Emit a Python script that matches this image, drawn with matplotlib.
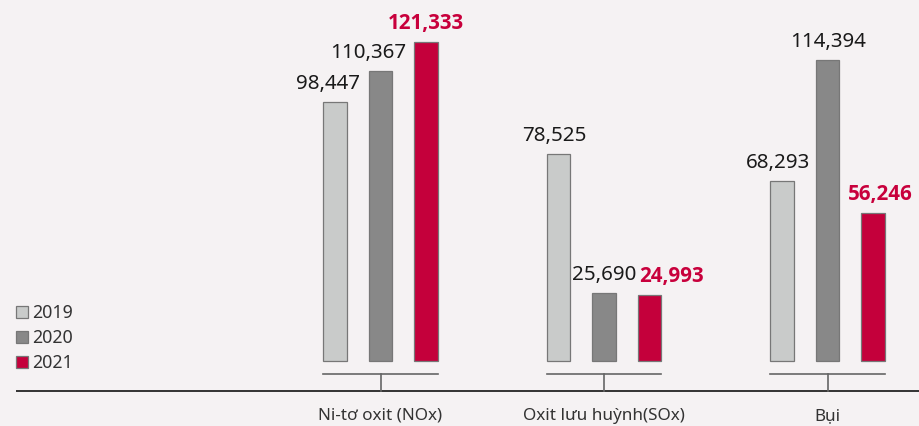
import matplotlib
matplotlib.use("Agg")
import matplotlib.pyplot as plt
from matplotlib.patches import Rectangle
import matplotlib.transforms as mtransforms

plt.rcParams['font.family'] = ['Noto Sans', 'DejaVu Sans']

categories = ["Ni-tơ oxit (NOx)", "Oxit lưu huỳnh(SOx)", "Bụi"]
years = ["2019", "2020", "2021"]
v2019 = [98447, 78525, 68293]
v2020 = [110367, 25690, 114394]
v2021 = [121333, 24993, 56246]
series = [v2019, v2020, v2021]

colors = ["#c9cbca", "#888888", "#c4003b"]
label_colors = ["#1a1a1a", "#1a1a1a", "#c8003c"]
label_weights = ["normal", "normal", "bold"]
label_families = [['Noto Sans', 'DejaVu Sans'], ['Noto Sans', 'DejaVu Sans'],
                  ['Open Sans', 'Roboto', 'DejaVu Sans']]
# horizontal nudges of value labels, in pixels (per year, per category)
label_dx = [[-7, -4, -4], [-12, 0, 1], [0, 22, 7]]

W, H = 919, 427
DPI = 100
bg = "#f5f2f3"
fig = plt.figure(figsize=(W / DPI, H / DPI), dpi=DPI, facecolor=bg)
ax = fig.add_axes([0, 0, 1, 1])
ax.set_facecolor(bg)

spacing = 223.5
x0 = 380.5
ax.set_xlim(-x0 / spacing, (W - x0) / spacing)
upp = 380.2  # units per pixel
base_px = 362
ax.set_ylim(-(H - base_px) * upp, base_px * upp)
ax.axis("off")

offs = [-0.2036, 0.0, 0.2036]
width = 0.103
px2pt = 72 / DPI
for i, vals in enumerate(series):
    xs = [k + offs[i] for k in range(len(categories))]
    ax.bar(xs, vals, width=width, color=colors[i], edgecolor="#777777",
           linewidth=0.9, zorder=3)
    for k, (x, v) in enumerate(zip(xs, vals)):
        ax.annotate(f"{v:,}", (x, v), xytext=(label_dx[i][k] * px2pt, 14 * px2pt),
                    textcoords="offset points", ha="center", va="baseline",
                    fontsize=14.8, color=label_colors[i],
                    fontweight=label_weights[i], family=label_families[i])

# baseline and brackets
trans = mtransforms.blended_transform_factory(ax.transData, ax.transAxes)
y_base = (H - 392) / H
y_br = (H - 374.5) / H
ax.plot([16 / W, 1], [y_base, y_base], transform=ax.transAxes, color="#333333",
        lw=1.4, solid_capstyle="butt", clip_on=False)
for k, cat in enumerate(categories):
    left = k + offs[0] - width / 2
    right = k + offs[2] + width / 2
    ax.plot([left, right], [y_br, y_br], transform=trans, color="#666666", lw=1.2)
    ax.plot([k, k], [y_br, y_base], transform=trans, color="#666666", lw=1.2)
    ax.text(k, (H - 416) / H, cat, transform=trans, ha="center", va="center",
            fontsize=12.3, color="#333333")

# legend
leg_y = [313, 338, 363]
for yr, c, yc in zip(years, colors, leg_y):
    fig.add_artist(Rectangle((16 / W, (H - yc - 6) / H), 12 / W, 12 / H,
                             transform=fig.transFigure, facecolor=c,
                             edgecolor="#777777", lw=0.9))
    fig.text(32 / W, (H - yc) / H, yr, ha="left", va="center",
             fontsize=12.8, color="#333333")

fig.savefig("out.png", dpi=DPI, facecolor=bg)
